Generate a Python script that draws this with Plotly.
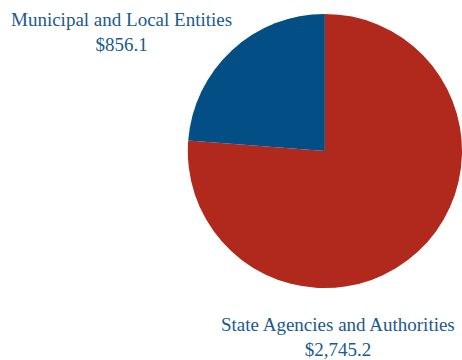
import plotly.graph_objects as go

# Expenditures by entity type (millions of dollars)
categories = ["State Agencies and Authorities", "Municipal and Local Entities"]
values = [2745.2, 856.1]
value_labels = ["$2,745.2", "$856.1"]
colors = ["#b0291c", "#034e85"]

W, H = 462, 360

fig = go.Figure(
    go.Pie(
        labels=categories,
        values=values,
        marker=dict(colors=colors, line=dict(width=0)),
        sort=False,
        direction="clockwise",
        rotation=0,
        textinfo="none",
        showlegend=False,
        domain=dict(x=[0.4065, 1.0], y=[0.1986, 0.9625]),
    )
)

label_font = dict(family="Liberation Serif", size=19, color="#1a5a8e")
label_pos = [(338, 337), (121, 32)]
for name, val, (px, py) in zip(categories, value_labels, label_pos):
    fig.add_annotation(
        x=px / W, y=1 - py / H, xref="paper", yref="paper",
        text=f"{name}<br>{val}", showarrow=False,
        font=label_font, align="center", xanchor="center", yanchor="middle",
    )

fig.update_layout(
    width=W, height=H,
    margin=dict(l=0, r=0, t=0, b=0),
    paper_bgcolor="white", plot_bgcolor="white",
)

fig.write_html("out.html")
